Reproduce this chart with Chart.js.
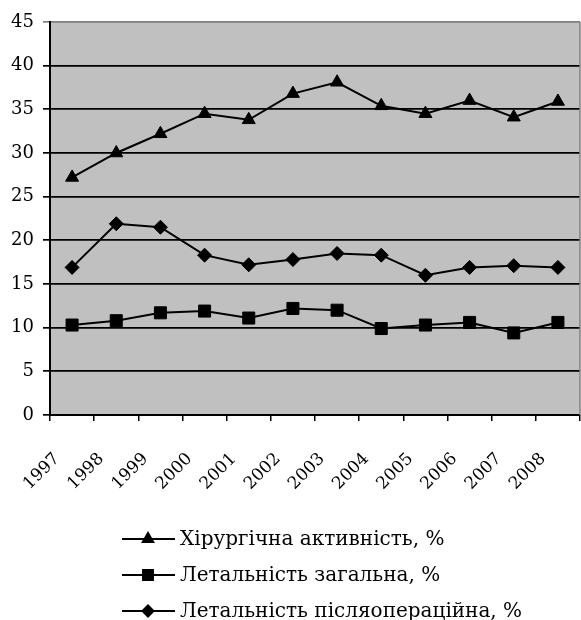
<!DOCTYPE html>
<html>
<head>
<meta charset="utf-8">
<script src="https://cdn.jsdelivr.net/npm/chart.js@4.4.1/dist/chart.umd.min.js"></script>
<style>
  html, body { margin: 0; padding: 0; background: #fff; overflow: hidden; }
  canvas { display: block; }
</style>
</head>
<body>
<canvas id="chart" width="581" height="620"></canvas>
<script>
const years = ['1997', '1998', '1999', '2000', '2001', '2002', '2003', '2004', '2005', '2006', '2007', '2008'];
const surgicalActivity = [27.2, 30.0, 32.2, 34.5, 33.8, 36.8, 38.1, 35.4, 34.5, 36.0, 34.1, 35.9];
const mortalityTotal = [10.3, 10.8, 11.7, 11.9, 11.1, 12.2, 12.0, 9.9, 10.3, 10.6, 9.4, 10.6];
const mortalityPostop = [16.9, 21.9, 21.5, 18.3, 17.2, 17.8, 18.5, 18.3, 16.0, 16.9, 17.1, 16.9];
const seriesNames = ['Хірургічна активність, %', 'Летальність загальна, %', 'Летальність післяопераційна, %'];
const yMin = 0, yMax = 45, yStep = 5;

const serif = "'DejaVu Serif', serif";

// grey plot area + grey right border
const plotBg = {
    id: 'plotBg',
    beforeDraw(chart) {
        const a = chart.chartArea, ctx = chart.ctx;
        ctx.save();
        ctx.fillStyle = '#c0c0c0';
        ctx.fillRect(a.left, a.top, a.right - a.left, a.bottom - a.top);
        ctx.restore();
    },
    afterDraw(chart) {
        const a = chart.chartArea, ctx = chart.ctx;
        ctx.save();
        ctx.strokeStyle = '#808080';
        ctx.lineWidth = 1.5;
        ctx.beginPath();
        ctx.moveTo(a.right, a.top);
        ctx.lineTo(a.right, a.bottom);
        ctx.stroke();
        ctx.restore();
    }
};

// Excel-like legend: line with marker in the middle, one item per row
const lineLegend = {
    id: 'lineLegend',
    afterDraw(chart) {
        const ctx = chart.ctx;
        chart.data.datasets.forEach(function(ds, i) {
            const y = 539 + i * 36;
            ctx.save();
            ctx.strokeStyle = ds.borderColor;
            ctx.lineWidth = ds.borderWidth;
            ctx.beginPath();
            ctx.moveTo(122, y);
            ctx.lineTo(175, y);
            ctx.stroke();
            ctx.fillStyle = ds.pointBackgroundColor;
            ctx.strokeStyle = ds.pointBorderColor;
            Chart.helpers.drawPoint(ctx, { pointStyle: ds.pointStyle, radius: ds.pointRadius - 1.5, borderWidth: 1, rotation: 0 }, 148, y);
            ctx.fillStyle = '#000';
            ctx.font = '20px ' + serif;
            ctx.textBaseline = 'middle';
            ctx.fillText(ds.label, 180, y + 1);
            ctx.restore();
        });
    }
};

function series(label, data, style, radius) {
    return {
        label: label,
        data: data,
        borderColor: '#000',
        borderWidth: 2,
        pointStyle: style,
        pointRadius: radius,
        pointHoverRadius: radius,
        pointBackgroundColor: '#000',
        pointBorderColor: '#000',
        pointBorderWidth: 1,
        tension: 0
    };
}

new Chart(document.getElementById('chart'), {
    type: 'line',
    data: {
        labels: years,
        datasets: [
            series(seriesNames[0], surgicalActivity, 'triangle', 7.5),
            series(seriesNames[1], mortalityTotal, 'rect', 8.5),
            series(seriesNames[2], mortalityPostop, 'rectRot', 7)
        ]
    },
    options: {
        responsive: false,
        animation: false,
        layout: { autoPadding: false, padding: { top: 22, right: 1, left: 0, bottom: 125 } },
        plugins: {
            legend: { display: false },
            tooltip: { enabled: false }
        },
        scales: {
            x: {
                offset: true,
                afterFit: function(scale) {
                    scale.height = 80;
                    scale.paddingLeft = 0;
                    scale.paddingRight = 0;
                },
                grid: {
                    offset: true,
                    drawOnChartArea: false,
                    drawTicks: true,
                    tickLength: 6,
                    color: '#000',
                    lineWidth: 1.5
                },
                border: { color: '#000', width: 2 },
                ticks: {
                    minRotation: 45,
                    maxRotation: 45,
                    labelOffset: -15,
                    padding: 28,
                    color: '#000',
                    font: { family: serif, size: 17 }
                }
            },
            y: {
                min: yMin,
                max: yMax,
                afterFit: function(scale) {
                    scale.width = 50;
                    scale.paddingTop = 0;
                    scale.paddingBottom = 0;
                },
                grid: {
                    color: function(c) { return c.tick && c.tick.value === yMax ? '#808080' : '#000'; },
                    lineWidth: 1.7,
                    drawTicks: true,
                    tickLength: 7
                },
                border: { color: '#000', width: 2 },
                ticks: {
                    stepSize: yStep,
                    padding: 9,
                    color: '#000',
                    font: { family: serif, size: 18 }
                }
            }
        }
    },
    plugins: [plotBg, lineLegend]
});
</script>
</body>
</html>
